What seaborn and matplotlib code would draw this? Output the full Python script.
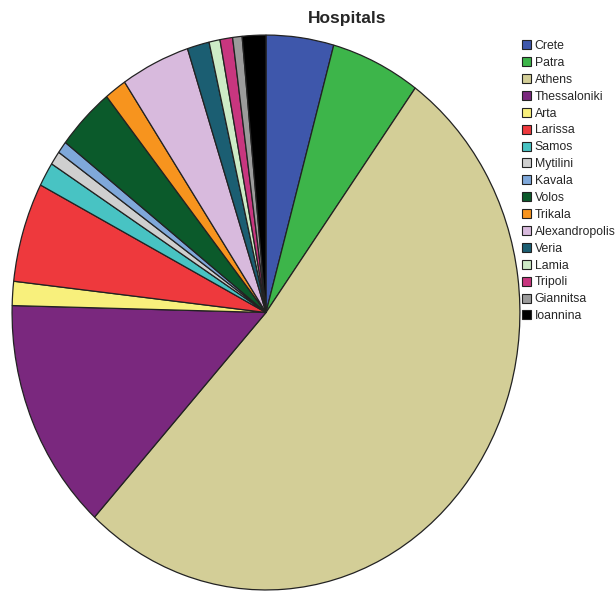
import matplotlib
matplotlib.use("Agg")
import matplotlib.pyplot as plt
import seaborn as sns
from matplotlib.patches import Patch

sns.set_theme(style="white")
plt.rcParams['font.family'] = ['Liberation Sans', 'DejaVu Sans']

cities = ["Crete", "Patra", "Athens", "Thessaloniki", "Arta", "Larissa", "Samos",
          "Mytilini", "Kavala", "Volos", "Trikala", "Alexandropolis", "Veria",
          "Lamia", "Tripoli", "Giannitsa", "Ioannina"]
shares = [4.3, 5.7, 51.8, 13.6, 1.4, 5.8, 1.4, 0.8, 0.7, 3.7, 1.4, 4.4, 1.4,
          0.7, 0.8, 0.6, 1.5]
colors = ["#3E57AB", "#3DB54A", "#D3CE97", "#7A287E", "#F8F07C", "#EE393D",
          "#48C3C3", "#CFCFCF", "#7FA8DA", "#0B5A2B", "#F7941E", "#D8BADD",
          "#1B5E72", "#CDEBC6", "#C8367F", "#9B9B9B", "#000000"]

fig = plt.figure(figsize=(6.16, 6.0), dpi=100)
ax = fig.add_axes([0.01136, 0.0075, 0.8409, 0.9433])
ax.pie(shares, colors=colors, startangle=90, counterclock=False,
       wedgeprops=dict(edgecolor="#222222", linewidth=0.9))
ax.set_aspect('auto')
ax.set_xlim(-1.02, 1.02)
ax.set_ylim(-1.02, 1.02)
ax.axis('off')

fig.text(347 / 616, 1 - 19 / 600, "Hospitals", ha="center", va="center",
         fontsize=12.5, fontweight="bold")

handles = [Patch(facecolor=c, edgecolor="#222222", linewidth=0.8) for c in colors]
fig.legend(handles, cities, loc="upper left", bbox_to_anchor=(522 / 616, 1 - 40 / 600),
           frameon=False, fontsize=8.8, handlelength=0.75, handleheight=0.75,
           handletextpad=0.3, labelspacing=0.40, borderaxespad=0, borderpad=0)

fig.savefig("out.png", dpi=100)
